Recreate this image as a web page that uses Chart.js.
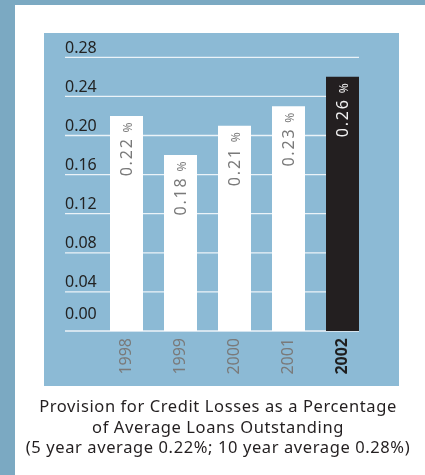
<!DOCTYPE html>
<html>
<head>
<meta charset="utf-8">
<script src="https://cdn.jsdelivr.net/npm/chart.js@4/dist/chart.umd.min.js"></script>
<style>
  html, body { margin: 0; padding: 0; background: #ffffff; width: 425px; height: 475px; overflow: hidden; }
  #stripL { position: absolute; left: 0; top: 0; width: 15px; height: 475px; background: #7ba9c2; }
  #stripT { position: absolute; left: 0; top: 0; width: 425px; height: 5px; background: #7ba9c2; }
  #panel { position: absolute; left: 44px; top: 33px; width: 355px; height: 353px; background: #8cbad5; }
  #wrap { position: absolute; left: 0; top: 0; width: 425px; height: 475px; }
  #cap { position: absolute; left: 0; top: 396px; width: 436px; text-align: center;
         font-family: "Noto Sans", sans-serif; font-size: 16.5px; line-height: 20.7px;
         letter-spacing: 0.6px; color: #231f20; }
</style>
</head>
<body>
<div id="stripL"></div>
<div id="stripT"></div>
<div id="panel"></div>
<div id="wrap"><canvas id="c" width="425" height="475"></canvas></div>
<div id="cap">Provision for Credit Losses as a Percentage<br>of Average Loans Outstanding<br>(5 year average 0.22%; 10 year average 0.28%)</div>
<script>
const years = ['1998', '1999', '2000', '2001', '2002'];
const provision = [0.22, 0.18, 0.21, 0.23, 0.26];
const yTicks = [0, 0.04, 0.08, 0.12, 0.16, 0.20, 0.24, 0.28];
const barColors = ['#ffffff', '#ffffff', '#ffffff', '#ffffff', '#231f20'];
const labelColors = ['#7a7a7a', '#7a7a7a', '#7a7a7a', '#7a7a7a', '#f2f2f2'];

const FONT = '"Noto Sans", sans-serif';

const gridPlugin = {
  id: 'customGrid',
  beforeDatasetsDraw(chart) {
    const ctx = chart.ctx;
    const ys = chart.scales.y;
    const meta = chart.getDatasetMeta(0);
    const last = meta.data[meta.data.length - 1];
    const x0 = ys.left;
    const x1 = last.x + last.width / 2;
    ctx.save();
    ctx.strokeStyle = 'rgba(240,246,250,0.95)';
    ctx.lineWidth = 1.3;
    ys.ticks.forEach(t => {
      const y = ys.getPixelForValue(t.value);
      ctx.beginPath();
      ctx.moveTo(x0, y);
      ctx.lineTo(x1, y);
      ctx.stroke();
    });
    ctx.restore();
  }
};

const barLabelPlugin = {
  id: 'barLabels',
  afterDatasetsDraw(chart) {
    const ctx = chart.ctx;
    const meta = chart.getDatasetMeta(0);
    meta.data.forEach((bar, i) => {
      ctx.save();
      ctx.translate(bar.x, bar.y + 6.5);
      ctx.rotate(-Math.PI / 2);
      ctx.fillStyle = labelColors[i];
      ctx.textBaseline = 'alphabetic';
      ctx.textAlign = 'right';
      ctx.font = '12px ' + FONT;
      ctx.fillText('%', 0, 5.8);
      const pw = ctx.measureText('%').width;
      ctx.font = '16px ' + FONT;
      ctx.letterSpacing = '1.8px';
      ctx.fillText(provision[i].toFixed(2), -pw - 5, 5.8);
      ctx.restore();
    });
  }
};

new Chart(document.getElementById('c'), {
  type: 'bar',
  data: {
    labels: years,
    datasets: [{
      data: provision,
      backgroundColor: barColors,
      borderWidth: 0,
      barPercentage: 33 / 54,
      categoryPercentage: 1
    }]
  },
  options: {
    responsive: false,
    animation: false,
    devicePixelRatio: 1,
    layout: { padding: { left: 65, top: 57.3, right: 55.5, bottom: 94 } },
    plugins: { legend: { display: false }, tooltip: { enabled: false }, title: { display: false } },
    scales: {
      x: {
        grid: { display: false, drawTicks: false },
        border: { display: false },
        afterFit(scale) { scale.height = 50; },
        ticks: {
          minRotation: 90, maxRotation: 90, padding: 7, autoSkip: false,
          color: c => c.index === 4 ? '#1e1e1e' : '#7a7a7a',
          font: c => ({ family: FONT, size: 16, weight: c.index === 4 ? 'bold' : 'normal' })
        }
      },
      y: {
        min: 0, max: 0.28,
        grid: { display: false, drawTicks: false },
        border: { display: false },
        afterFit(scale) { scale.width = 34.5; },
        afterBuildTicks(scale) { scale.ticks = yTicks.map(v => ({ value: v })); },
        ticks: {
          crossAlign: 'far', padding: 0, labelOffset: -9,
          color: '#222222',
          font: { family: FONT, size: 16, lineHeight: 0.95 },
          callback: v => v === 0 ? ['0.00', ''] : Number(v).toFixed(2)
        }
      }
    }
  },
  plugins: [gridPlugin, barLabelPlugin]
});
</script>
</body>
</html>
